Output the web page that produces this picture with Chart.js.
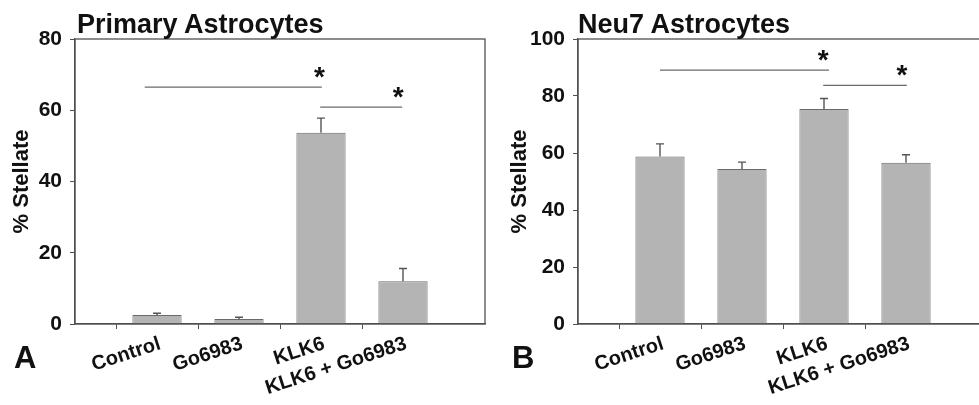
<!DOCTYPE html>
<html>
<head>
<meta charset="utf-8">
<script src="https://cdn.jsdelivr.net/npm/chart.js@4.4.0/dist/chart.umd.min.js"></script>
<style>
  html, body { margin: 0; padding: 0; background: #fff; overflow: hidden; }
  body { width: 979px; height: 405px; position: relative; font-family: "Liberation Sans", Arial, sans-serif; }
  .panel { position: absolute; top: 0; height: 405px; }
  .title { position: absolute; font-weight: bold; font-size: 27px; line-height: 1; color: #111; white-space: nowrap; }
  .letter { position: absolute; font-weight: bold; font-size: 31px; line-height: 1; color: #111; }
</style>
</head>
<body>
<div class="panel" style="left:0;width:490px"><canvas id="chartA" width="490" height="405"></canvas></div>
<div class="panel" style="left:490px;width:510px"><canvas id="chartB" width="510" height="405"></canvas></div>
<div class="title" style="left:77px;top:11px">Primary Astrocytes</div>
<div class="title" style="left:578px;top:11px">Neu7 Astrocytes</div>
<div class="letter" style="left:14px;top:342px">A</div>
<div class="letter" style="left:512px;top:342px">B</div>
<script>
// data
const categories = ['Control', 'Go6983', 'KLK6', 'KLK6 + Go6983'];

const primaryValues = [2.5, 1.4, 53.7, 12.0];
const primaryErrors = [0.5, 0.5, 4.1, 3.6];
const primaryTicks = [0, 20, 40, 60, 80];
// significance bars: from / to in category positions, y in % Stellate, star position
const primarySig = [
    { from: 0.85, to: 3.01, y: 66.5, star: 2.98 },
    { from: 2.99, to: 3.99, y: 60.9, star: 3.94 }
];

const neu7Values = [58.8, 54.4, 75.4, 56.6];
const neu7Errors = [4.4, 2.4, 3.7, 2.8];
const neu7Ticks = [0, 20, 40, 60, 80, 100];
const neu7Sig = [
    { from: 1.0, to: 3.06, y: 89.1, star: 2.99 },
    { from: 2.99, to: 4.01, y: 83.7, star: 3.95 }
];

const FONT = '"Liberation Sans", Arial, sans-serif';
const AXIS_COLOR = '#505050';

// frame, error bars and significance markers
const extras = {
    id: 'extras',
    afterDatasetsDraw(chart, args, opts) {
        const { ctx, chartArea: a, scales: { x, y } } = chart;
        ctx.save();

        // error bars (upper half only)
        ctx.strokeStyle = '#555';
        ctx.lineWidth = 1.4;
        opts.values.forEach((v, i) => {
            const px = x.getPixelForValue(i + 1);
            const top = y.getPixelForValue(v);
            const end = y.getPixelForValue(v + opts.errors[i]);
            ctx.beginPath();
            ctx.moveTo(px, top);
            ctx.lineTo(px, end);
            ctx.moveTo(px - 4, end);
            ctx.lineTo(px + 4, end);
            ctx.stroke();
        });

        // significance lines
        ctx.strokeStyle = '#6a6a6a';
        ctx.lineWidth = 1.2;
        ctx.fillStyle = '#111';
        ctx.font = 'bold 28px ' + FONT;
        ctx.textAlign = 'center';
        ctx.textBaseline = 'alphabetic';
        opts.sig.forEach(s => {
            const py = y.getPixelForValue(s.y);
            ctx.beginPath();
            ctx.moveTo(x.getPixelForValue(s.from), py);
            ctx.lineTo(x.getPixelForValue(s.to), py);
            ctx.stroke();
            ctx.fillText('*', x.getPixelForValue(s.star), py - 1);
        });

        // box around the plot
        ctx.strokeStyle = AXIS_COLOR;
        ctx.lineWidth = 1.3;
        ctx.strokeRect(a.left, a.top, a.right - a.left, a.bottom - a.top);
        ctx.restore();
    }
};

function makeChart(id, values, errors, ticks, sig, axisWidth, titlePad, rightPad) {
    const labels = ['', ...categories, ''];
    return new Chart(document.getElementById(id), {
        type: 'bar',
        data: {
            labels: labels,
            datasets: [{
                data: [null, ...values, null],
                backgroundColor: '#b4b4b4',
                borderColor: '#6a6a6a',
                borderWidth: 1,
                barPercentage: 0.6,
                categoryPercentage: 1
            }]
        },
        options: {
            responsive: false,
            animation: false,
            layout: { padding: { top: 39, right: rightPad, bottom: 0, left: 0 } },
            plugins: {
                legend: { display: false },
                tooltip: { enabled: false },
                extras: { values: values, errors: errors, sig: sig }
            },
            scales: {
                x: {
                    offset: false,
                    grid: {
                        drawOnChartArea: false,
                        tickLength: 5,
                        color: c => (c.index === 0 || c.index === labels.length - 1) ? 'rgba(0,0,0,0)' : AXIS_COLOR
                    },
                    border: { color: AXIS_COLOR, width: 1.3 },
                    ticks: {
                        autoSkip: false,
                        minRotation: 18,
                        maxRotation: 18,
                        padding: 3,
                        labelOffset: 3,
                        color: '#111',
                        font: { family: FONT, size: 20, weight: 'bold' }
                    },
                    afterFit: s => {
                        s.height = 81;
                        s.paddingLeft = 0;
                        s.paddingRight = 0;
                    }
                },
                y: {
                    min: ticks[0],
                    max: ticks[ticks.length - 1],
                    afterBuildTicks: s => { s.ticks = ticks.map(v => ({ value: v })); },
                    grid: { drawOnChartArea: false, tickLength: 5, color: AXIS_COLOR },
                    border: { color: AXIS_COLOR, width: 1.3 },
                    ticks: {
                        padding: 8,
                        color: '#111',
                        font: { family: FONT, size: 21, weight: 'bold' }
                    },
                    title: {
                        display: true,
                        text: '% Stellate',
                        color: '#111',
                        padding: { top: titlePad, bottom: 0 },
                        font: { family: FONT, size: 22, weight: 'bold' }
                    },
                    afterFit: s => { s.width = axisWidth; }
                }
            }
        },
        plugins: [extras]
    });
}

makeChart('chartA', primaryValues, primaryErrors, primaryTicks, primarySig, 75, 9, 5);
makeChart('chartB', neu7Values, neu7Errors, neu7Ticks, neu7Sig, 88, 17, 12);
</script>
</body>
</html>
